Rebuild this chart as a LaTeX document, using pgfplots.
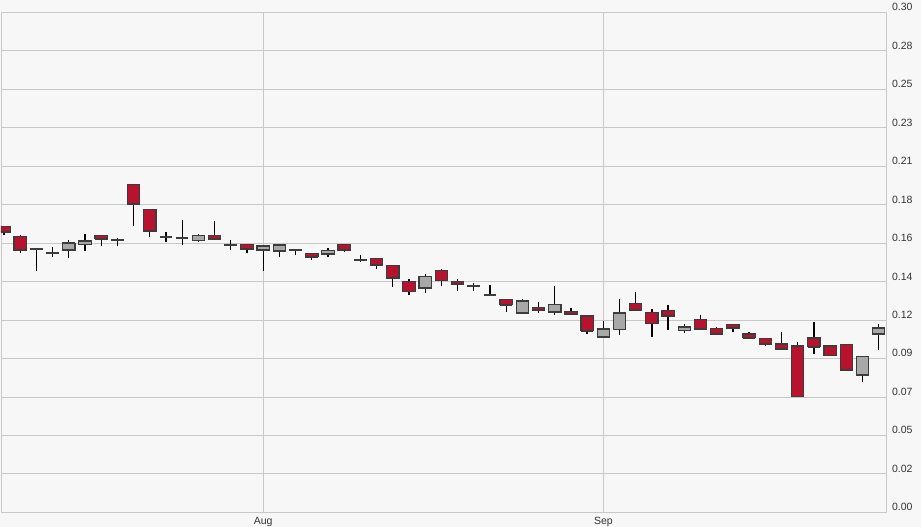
\documentclass[border=0pt]{standalone}
\usepackage{pgfplots}
\pgfplotsset{compat=1.18}
\usepackage{pgfplotstable}
\usepackage{fontspec}
\setmainfont{Liberation Sans}

\definecolor{bg}{HTML}{F7F7F7}
\definecolor{gridc}{HTML}{C8C8C8}
\definecolor{txt}{HTML}{333333}
\definecolor{downred}{HTML}{B8122E}
\definecolor{upgray}{HTML}{A8A8A8}
\definecolor{edge}{HTML}{3C3C3C}

% daily candles: index, open, high, low, close
\pgfplotstableread{
i  o      h      l      c
1  0.1714 0.1714 0.1664 0.1682
2  0.1654 0.1664 0.1554 0.1574
3  0.1580 0.1580 0.1450 0.1580
4  0.1556 0.1590 0.1530 0.1556
5  0.1574 0.1636 0.1526 0.1614
6  0.1608 0.1670 0.1570 0.1628
7  0.1662 0.1662 0.1600 0.1642
8  0.1632 0.1644 0.1600 0.1632
9  0.1966 0.1966 0.1720 0.1850
10 0.1818 0.1818 0.1654 0.1688
11 0.1654 0.1684 0.1624 0.1654
12 0.1644 0.1754 0.1606 0.1644
13 0.1632 0.1670 0.1620 0.1660
14 0.1662 0.1748 0.1636 0.1642
15 0.1604 0.1634 0.1576 0.1604
16 0.1608 0.1608 0.1558 0.1580
17 0.1574 0.1598 0.1450 0.1598
18 0.1568 0.1602 0.1534 0.1602
19 0.1574 0.1580 0.1542 0.1574
20 0.1552 0.1552 0.1516 0.1534
21 0.1550 0.1584 0.1534 0.1570
22 0.1606 0.1606 0.1564 0.1574
23 0.1514 0.1544 0.1500 0.1514
24 0.1522 0.1522 0.1460 0.1486
25 0.1482 0.1482 0.1354 0.1406
26 0.1384 0.1400 0.1304 0.1326
27 0.1346 0.1430 0.1318 0.1414
28 0.1450 0.1460 0.1360 0.1392
29 0.1384 0.1398 0.1330 0.1370
30 0.1358 0.1374 0.1330 0.1358
31 0.1302 0.1364 0.1302 0.1302
32 0.1276 0.1280 0.1204 0.1246
33 0.1196 0.1280 0.1196 0.1266
34 0.1230 0.1262 0.1198 0.1214
35 0.1202 0.1358 0.1186 0.1246
36 0.1206 0.1224 0.1190 0.1190
37 0.1178 0.1178 0.1072 0.1090
38 0.1052 0.1150 0.1052 0.1098
39 0.1098 0.1280 0.1066 0.1194
40 0.1254 0.1322 0.1214 0.1214
41 0.1200 0.1218 0.1054 0.1134
42 0.1212 0.1242 0.1094 0.1178
43 0.1092 0.1130 0.1078 0.1110
44 0.1158 0.1184 0.1100 0.1100
45 0.1102 0.1112 0.1070 0.1070
46 0.1126 0.1126 0.1082 0.1106
47 0.1070 0.1082 0.1048 0.1048
48 0.1044 0.1044 0.0998 0.1010
49 0.1010 0.1082 0.0982 0.0982
50 0.0998 0.1022 0.0696 0.0696
51 0.1046 0.1142 0.0952 0.0994
52 0.0998 0.0998 0.0942 0.0942
53 0.1006 0.1006 0.0856 0.0856
54 0.0824 0.0938 0.0780 0.0934
55 0.1070 0.1130 0.0974 0.1106
}\ohlc

\pgfplotsset{
  pane/.style={
    width=885pt, height=500pt, scale only axis,
    xmin=0.815, xmax=55.45, ymin=0, ymax=0.3,
  },
}

\begin{document}
\begin{tikzpicture}[x=1pt,y=1pt]
\useasboundingbox (-1,-14.7) rectangle (920,512.3);
\fill[bg] (-1,-14.7) rectangle (920,512.3);

\begin{axis}[pane,
  axis line style={gridc, line width=0.8pt},
  xmajorgrids, ymajorgrids,
  grid style={gridc, line width=0.8pt},
  major tick length=0pt,
  xtick={17,38}, xticklabels={Aug,Sep},
  ytick={0,0.023077,0.046154,0.069231,0.092308,0.115385,0.138462,0.161538,0.184615,0.207692,0.230769,0.253846,0.276923,0.3},
  yticklabels={0.00,0.02,0.05,0.07,0.09,0.12,0.14,0.16,0.18,0.21,0.23,0.25,0.28,0.30},
  yticklabel pos=right,
  tick label style={font=\fontsize{10.5}{12}\selectfont, text=txt},
  yticklabel style={anchor=base west, xshift=2.5pt, yshift=1.5pt},
  xticklabel style={yshift=-1pt},
]
% wicks
\addplot[draw=none, mark=none, forget plot,
  error bars/.cd, y dir=plus, y explicit, error mark=none,
  error bar style={draw=black, line width=1.3pt}]
  table[x=i, y=l, y error expr=\thisrow{h}-\thisrow{l}] {\ohlc};
% close ticks (seen only where open = close)
\addplot[draw=none, mark=none, forget plot,
  error bars/.cd, x dir=both, x explicit, error mark=none,
  error bar style={draw=edge, line width=1.8pt}]
  table[x=i, y=c, x error expr=0.39] {\ohlc};
\end{axis}

\begin{axis}[pane, hide axis, ybar stacked, bar width=0.76]
% bodies
\addplot[draw=none, fill=none] table[x=i, y expr={min(\thisrow{o},\thisrow{c})}] {\ohlc};
\addplot[fill=downred, draw=edge, line width=1.2pt] table[x=i, y expr={max(\thisrow{o}-\thisrow{c},0)}] {\ohlc};
\addplot[fill=upgray, draw=edge, line width=1.2pt] table[x=i, y expr={max(\thisrow{c}-\thisrow{o},0)}] {\ohlc};
\end{axis}
\end{tikzpicture}
\end{document}
